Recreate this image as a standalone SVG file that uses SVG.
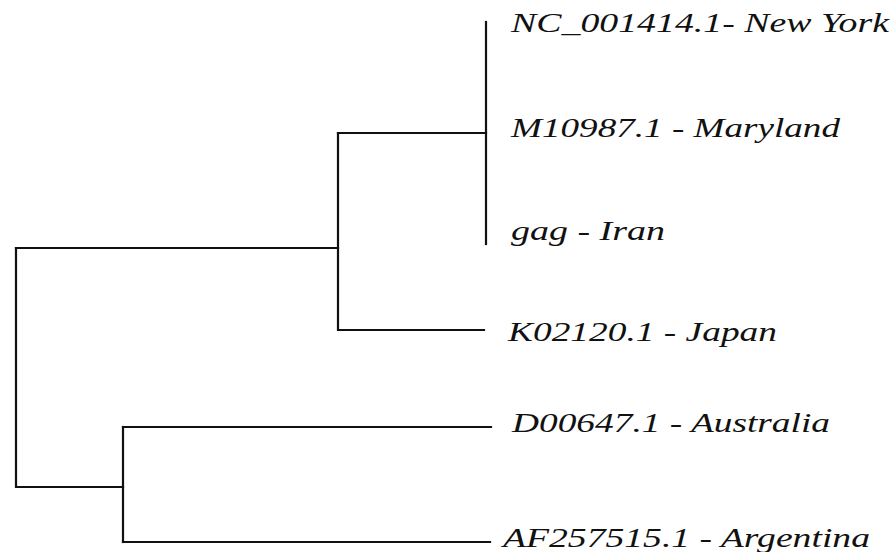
<svg xmlns="http://www.w3.org/2000/svg" width="893" height="552" viewBox="0 0 893 552">
<style>
.br{fill:none;stroke:#111;stroke-width:2.2;stroke-linecap:square}
.lb{font-family:"Liberation Serif","Times New Roman",serif;font-style:italic;font-size:28px;fill:#111}
</style>
<rect width="893" height="552" fill="#fff"/>
<g id="connectors">
<path class="br" d="M486,22 V244"/>
<path class="br" d="M338,133 H486"/>
<path class="br" d="M338,133 V330 H484"/>
<path class="br" d="M16,248 H338"/>
<path class="br" d="M16,248 V487 H123"/>
<path class="br" d="M123,427 V542"/>
<path class="br" d="M123,427 H491"/>
<path class="br" d="M123,542 H490"/>
</g>
<g id="n-newyork"><text class="lb" x="511" y="32" textLength="378" lengthAdjust="spacingAndGlyphs">NC_001414.1- New York</text></g>
<g id="n-maryland"><text class="lb" x="511" y="137" textLength="329" lengthAdjust="spacingAndGlyphs">M10987.1 - Maryland</text></g>
<g id="n-iran"><text class="lb" x="511" y="240" textLength="154" lengthAdjust="spacingAndGlyphs">gag - Iran</text></g>
<g id="n-japan"><text class="lb" x="508" y="341" textLength="269" lengthAdjust="spacingAndGlyphs">K02120.1 - Japan</text></g>
<g id="n-australia"><text class="lb" x="512" y="432" textLength="318" lengthAdjust="spacingAndGlyphs">D00647.1 - Australia</text></g>
<g id="n-argentina"><text class="lb" x="503" y="547" textLength="367" lengthAdjust="spacingAndGlyphs">AF257515.1 - Argentina</text></g>
</svg>
